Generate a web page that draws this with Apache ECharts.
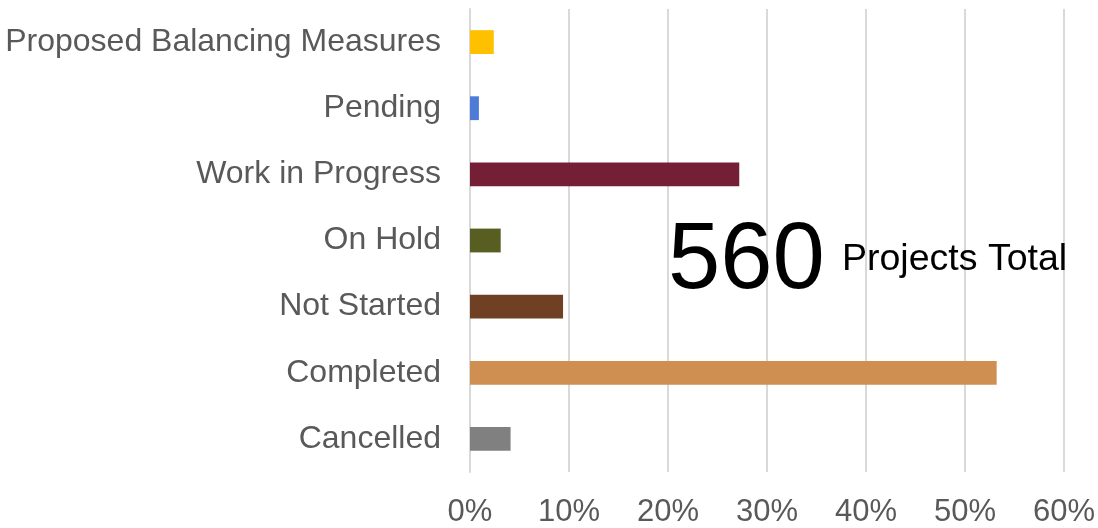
<!DOCTYPE html>
<html>
<head>
<meta charset="utf-8">
<script src="https://cdn.jsdelivr.net/npm/echarts@6/dist/echarts.min.js"></script>
<style>
  html, body { margin: 0; padding: 0; background: #fff; }
  #chart { width: 1098px; height: 528px; }
</style>
</head>
<body>
<div id="chart"></div>
<script>
// categories top to bottom
const categories = ['Proposed Balancing Measures', 'Pending', 'Work in Progress', 'On Hold', 'Not Started', 'Completed', 'Cancelled'];
// share of projects, percent
const shares = [2.4, 0.9, 27.2, 3.1, 9.4, 53.2, 4.1];
const barColors = ['#FFC000', '#4E7AD8', '#741F36', '#585E22', '#6F4024', '#CF8F50', '#808080'];
const totalProjects = 560;
const totalLabel = 'Projects Total';

const font = 'Liberation Sans, Arial, sans-serif';

const myChart = echarts.init(document.getElementById('chart'));

const option = {
    backgroundColor: '#fff',
    animation: false,
    grid: {left: 470, right: 34, top: 9, bottom: 54},
    xAxis: {
        type: 'value',
        min: 0,
        max: 60,
        interval: 10,
        axisLine: {show: false},
        axisTick: {show: false},
        splitLine: {lineStyle: {color: '#d9d9d9', width: 2}},
        axisLabel: {
            formatter: '{value}%',
            color: '#595959',
            fontSize: 31,
            fontFamily: font,
            margin: 25
        }
    },
    yAxis: {
        type: 'category',
        inverse: true,
        data: categories,
        axisLine: {lineStyle: {color: '#d9d9d9', width: 2}},
        axisTick: {show: false},
        axisLabel: {
            color: '#595959',
            fontSize: 32,
            fontFamily: font,
            margin: 29,
            lineHeight: 32,
            padding: [0, 0, 6, 0]
        }
    },
    series: [{
        type: 'bar',
        barWidth: '36%',
        data: shares.map((v, i) => ({value: v, itemStyle: {color: barColors[i]}}))
    }],
    graphic: [
        {
            type: 'text',
            z: 100,
            left: 668,
            top: 215,
            style: {text: String(totalProjects), fontSize: 94, fontFamily: font, fill: '#000'}
        },
        {
            type: 'text',
            z: 100,
            left: 842,
            top: 241,
            style: {text: totalLabel, fontSize: 37.5, fontFamily: font, fill: '#000'}
        }
    ]
};

myChart.setOption(option);
</script>
</body>
</html>
